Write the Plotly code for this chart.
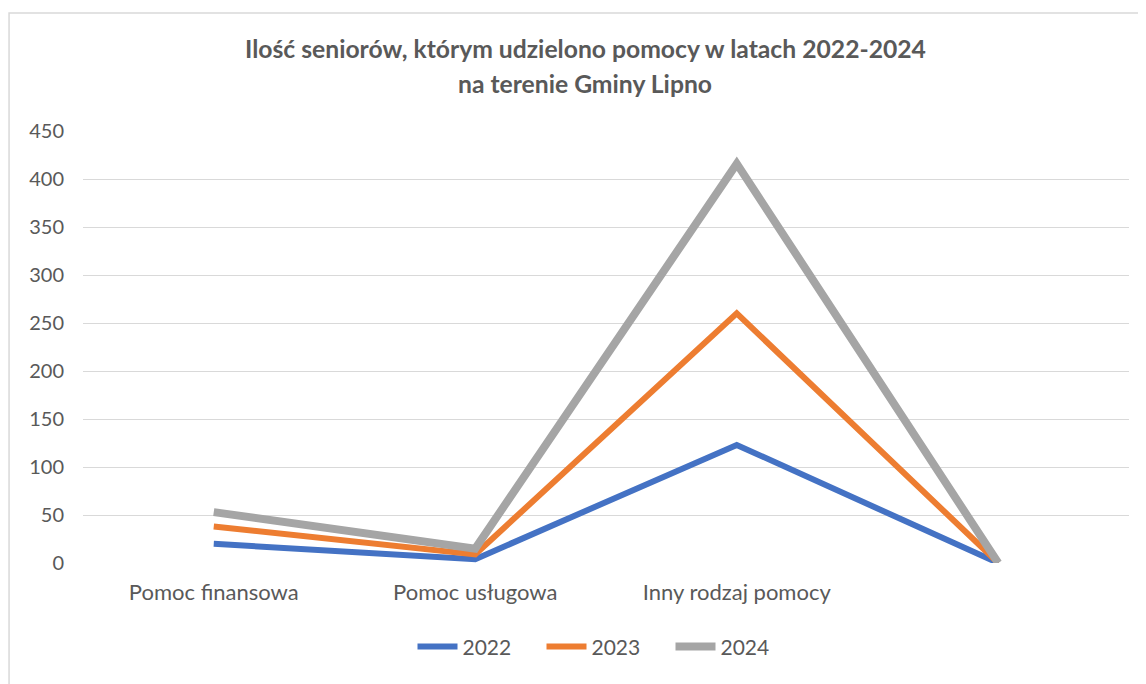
import plotly.graph_objects as go

categories = ["Pomoc finansowa", "Pomoc usługowa", "Inny rodzaj pomocy", " "]
years = ["2022", "2023", "2024"]
values_2022 = [20, 4, 123, 0]
values_2023 = [38, 9, 260, 0]
values_2024 = [53, 15, 416, 0]
y_ticks = [0, 50, 100, 150, 200, 250, 300, 350, 400, 450]

colors = ["#4472C4", "#ED7D31", "#A5A5A5"]
widths = [6, 6, 8]
text_color = "#595959"
font = "Lato"

fig = go.Figure()
for name, vals, c, w in zip(years, [values_2022, values_2023, values_2024], colors, widths):
    fig.add_trace(go.Scatter(
        x=categories, y=vals, name=name, mode="lines",
        line=dict(color=c, width=w),
    ))

# title as two centered lines
fig.add_annotation(text="<b>Ilość seniorów, którym udzielono pomocy w latach 2022-2024</b>",
                   xref="paper", yref="paper", x=0.48, y=1.19, showarrow=False,
                   xanchor="center", yanchor="middle",
                   font=dict(size=24.7, color=text_color, family=font))
fig.add_annotation(text="<b>na terenie Gminy Lipno</b>",
                   xref="paper", yref="paper", x=0.48, y=1.109, showarrow=False,
                   xanchor="center", yanchor="middle",
                   font=dict(size=24.7, color=text_color, family=font))

# chart area border
fig.add_shape(type="rect", xref="paper", yref="paper",
              x0=-0.0707, x1=1.2, y0=-0.4, y1=1.273,
              line=dict(color="#D9D9D9", width=1.5))

fig.update_layout(
    width=1146, height=684,
    margin=dict(l=75, r=25, t=123, b=129),
    paper_bgcolor="white", plot_bgcolor="white",
    font=dict(family=font, size=19, color=text_color),
    legend=dict(orientation="h", x=0.5, xanchor="center", y=-0.194, yanchor="middle",
                font=dict(size=21, color=text_color), entrywidth=74, itemwidth=40),
)
fig.update_xaxes(type="category", categoryorder="array", categoryarray=categories,
                 range=[-0.5, 3.5], showgrid=False, showline=False, zeroline=False,
                 ticks="", ticklabelstandoff=14, tickfont=dict(size=22))
fig.update_yaxes(range=[0, 450], tickvals=y_ticks, showgrid=True, gridcolor="#D9D9D9",
                 gridwidth=1, zeroline=False, showline=False, ticks="", ticklabelstandoff=18,
                 tickfont=dict(size=20))

fig.write_html("out.html")
